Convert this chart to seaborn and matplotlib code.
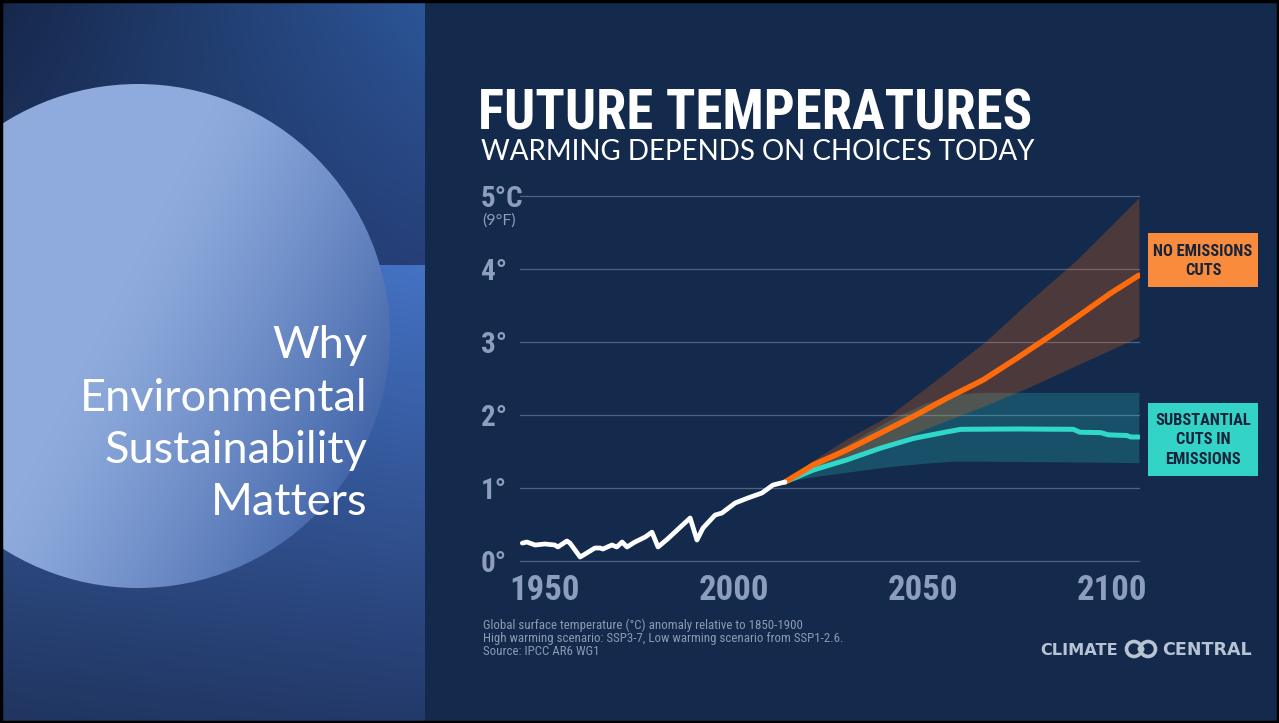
import numpy as np
import matplotlib
matplotlib.use("Agg")
import matplotlib.pyplot as plt
import seaborn as sns
import pandas as pd
from matplotlib.patches import Rectangle, Circle
from matplotlib.colors import to_rgb

# ---------------- data ----------------
hist_year = [1944.0, 1945.2, 1947.4, 1950.0, 1952.6, 1953.4, 1955.8, 1956.6, 1959.3, 1960.6,
             1963.2, 1964.6, 1965.3, 1967.7, 1969.0, 1970.4, 1971.7, 1973.8, 1976.5, 1978.3,
             1979.9, 1982.5, 1985.2, 1988.4, 1990.2, 1991.8, 1995.0, 1996.8, 2000.3, 2003.7,
             2007.4, 2010.3, 2013.5]
hist_temp = [0.25, 0.265, 0.224, 0.238, 0.224, 0.197, 0.279, 0.25, 0.06, 0.10,
             0.183, 0.183, 0.169, 0.224, 0.197, 0.265, 0.197, 0.265, 0.333, 0.40,
             0.197, 0.31, 0.44, 0.593, 0.292, 0.456, 0.634, 0.661, 0.798, 0.867,
             0.935, 1.044, 1.085]

high_year = [2013.5, 2021.0, 2029.7, 2038.6, 2047.4, 2056.3, 2065.9, 2074.8, 2083.6, 2092.4, 2099.5, 2107.1]
high_temp = [1.085, 1.32, 1.52, 1.75, 1.98, 2.23, 2.48, 2.776, 3.08, 3.40, 3.66, 3.91]

low_year = [2013.5, 2021.0, 2029.7, 2038.6, 2047.4, 2056.3, 2060.0, 2075.0, 2089.8, 2091.5, 2097.0, 2099.0, 2104.0, 2105.0, 2107.1]
low_temp = [1.085, 1.25, 1.385, 1.545, 1.68, 1.77, 1.805, 1.81, 1.805, 1.765, 1.76, 1.73, 1.72, 1.70, 1.70]

high_band_year = [2013.5, 2020, 2030, 2041.3, 2054, 2066.4, 2078, 2090.2, 2100, 2107.1]
high_band_upper = [1.085, 1.35, 1.68, 2.0, 2.5, 3.0, 3.55, 4.1, 4.6, 4.97]
high_band_lower = [1.085, 1.2, 1.4, 1.62, 1.88, 2.13, 2.38, 2.67, 2.9, 3.07]

low_band_year = [2013.5, 2020, 2030, 2040, 2050, 2058, 2065, 2090, 2107.1]
low_band_upper = [1.085, 1.3, 1.6, 1.9, 2.15, 2.28, 2.31, 2.31, 2.31]
low_band_lower = [1.085, 1.15, 1.22, 1.29, 1.34, 1.37, 1.37, 1.36, 1.35]

y_ticks = [0, 1, 2, 3, 4, 5]
y_tick_labels = ["0°", "1°", "2°", "3°", "4°", "5°C"]
x_ticks = [1950, 2000, 2050, 2100]
x_tick_labels = ["1950", "2000", "2050", "2100"]

title = "FUTURE TEMPERATURES"
subtitle = "WARMING DEPENDS ON CHOICES TODAY"
notes = ["Global surface temperature (°C) anomaly relative to 1850-1900",
         "High warming scenario: SSP3-7, Low warming scenario from SSP1-2.6.",
         "Source: IPCC AR6 WG1"]
slide_lines = ["Why", "Environmental", "Sustainability", "Matters"]

# ---------------- styling ----------------
NARROW = ["Roboto Condensed", "Liberation Sans Narrow", "DejaVu Sans"]
NAVY = "#132a4c"
TICKC = "#8c9dbd"
ORANGE = "#ff6a0a"
TEAL = "#2fd8c8"

W, H = 1279, 723
fig = plt.figure(figsize=(W / 100, H / 100), dpi=100)

bg = fig.add_axes([0, 0, 1, 1])
bg.set_xlim(0, W)
bg.set_ylim(H, 0)
bg.axis("off")


def bilinear(w, h, tl, tr, bl, br):
    tl, tr, bl, br = [np.array(to_rgb(c)) for c in (tl, tr, bl, br)]
    xs = np.linspace(0, 1, w)[None, :, None]
    ys = np.linspace(0, 1, h)[:, None, None]
    top = tl * (1 - xs) + tr * xs
    bot = bl * (1 - xs) + br * xs
    return top * (1 - ys) + bot * ys


# left slide panel
bg.imshow(bilinear(425, 265, "#16274a", "#2c5698", "#1f3764", "#263f78"),
          extent=(0, 425, 265, 0), origin="upper", zorder=0, aspect="auto")
bg.imshow(bilinear(425, 458, "#3c66b2", "#4472c4", "#20355f", "#23396a"),
          extent=(0, 425, 723, 265), origin="upper", zorder=0, aspect="auto")

# circle with gradient
cx, cy, r = 138, 336, 252
xs = np.arange(0, 392)
ys = np.arange(82, 590)
XX, YY = np.meshgrid(xs, ys)
t = np.clip(((XX - 140) * 0.9 + (YY - 250) * 0.45) / 300.0, 0, 1) ** 1.3
light = np.array(to_rgb("#8fabdd"))
dark = np.array(to_rgb("#4164a8"))
circ_img = light[None, None, :] * (1 - t[..., None]) + dark[None, None, :] * t[..., None]
im = bg.imshow(circ_img, extent=(0, 392, 590, 82), origin="upper", zorder=1, aspect="auto")
im.set_clip_path(Circle((cx, cy), r, transform=bg.transData))

for txt, yb in zip(slide_lines, [358, 411, 463, 515]):
    bg.text(367, yb, txt, ha="right", va="baseline", color="white", fontsize=32.5,
            family=["Lato", "DejaVu Sans"], weight="normal", zorder=3)

# right panel
bg.add_patch(Rectangle((425, 0), W - 425, H, fc=NAVY, ec="none", zorder=0))

# titles
bg.text(478, 130, title, color="white", fontsize=39.3, weight="bold", family=NARROW,
        fontstretch="condensed", va="baseline", ha="left", zorder=3)
bg.text(481, 160, subtitle, color="white", fontsize=20, family=["Lato", "DejaVu Sans"],
        va="baseline", ha="left", zorder=3)
bg.text(499, 221, "(9°F)", color=TICKC, fontsize=11.5, family=["Lato", "DejaVu Sans"],
        ha="center", va="center", zorder=3)

# legend boxes
bg.add_patch(Rectangle((1148, 233), 110, 54, fc="#f98b3d", ec="none", zorder=2))
bg.text(1203, 261, "NO EMISSIONS\nCUTS", ha="center", va="center", color="#17223b",
        fontsize=11.8, weight="bold", family=NARROW, fontstretch="condensed",
        linespacing=1.35, zorder=3)
bg.add_patch(Rectangle((1148, 403), 110, 73, fc="#33d3c8", ec="none", zorder=2))
bg.text(1203, 440, "SUBSTANTIAL\nCUTS IN\nEMISSIONS", ha="center", va="center",
        color="#17223b", fontsize=11.8, weight="bold", family=NARROW,
        fontstretch="condensed", linespacing=1.35, zorder=3)

# footnotes
for txt, yb in zip(notes, [629, 642, 655]):
    bg.text(483, yb, txt, ha="left", va="baseline", color="#8c9ab2", fontsize=9.3,
            family=NARROW, fontstretch="condensed", zorder=3)

# logo
LOGOC = "#b8c4d4"
bg.text(1040, 655, "CLIMATE", ha="left", va="baseline", color=LOGOC, fontsize=11.6,
        weight="bold", family="DejaVu Sans", zorder=3)
bg.text(1162, 655, "CENTRAL", ha="left", va="baseline", color=LOGOC, fontsize=12.6,
        weight="bold", family="DejaVu Sans", zorder=3)
bg.add_patch(Circle((1134, 649), 7.5, fc="none", ec=LOGOC, lw=2.6, zorder=3))
bg.add_patch(Circle((1148, 649), 7.5, fc="none", ec=LOGOC, lw=2.6, zorder=3))
bg.add_patch(Circle((1141, 649), 3.5, fc=LOGOC, ec="none", zorder=3))

# frame
bg.add_patch(Rectangle((1, 1), W - 2, H - 2, fill=False, ec="black", lw=2.5, zorder=5))

# ---------------- chart ----------------
ax_l, ax_r, ax_t, ax_b = 520, 1140, 185, 575
ax = fig.add_axes([ax_l / W, (H - ax_b) / H, (ax_r - ax_l) / W, (ax_b - ax_t) / H])
ax.set_facecolor("none")
for s in ax.spines.values():
    s.set_visible(False)

ax.fill_between(low_band_year, low_band_lower, low_band_upper, color="#2ec4c0",
                alpha=0.25, lw=0, zorder=1)
ax.fill_between(high_band_year, high_band_lower, high_band_upper, color=ORANGE,
                alpha=0.24, lw=0, zorder=1)

sns.lineplot(data=pd.DataFrame({"year": low_year, "temp": low_temp}), x="year", y="temp",
             ax=ax, color=TEAL, linewidth=3.6, zorder=3, solid_capstyle="round")
sns.lineplot(data=pd.DataFrame({"year": high_year, "temp": high_temp}), x="year", y="temp",
             ax=ax, color=ORANGE, linewidth=4.0, zorder=4, solid_capstyle="round")
sns.lineplot(data=pd.DataFrame({"year": hist_year, "temp": hist_temp}), x="year", y="temp",
             ax=ax, color="white", linewidth=3.4, zorder=5, solid_capstyle="round",
             solid_joinstyle="round")

# scale: 1950 at x=545 px, 3.78 px/yr; 0 deg at y=561.4 px, 73.17 px/deg
ax.set_xlim(1950 + (ax_l - 545) / 3.78, 1950 + (ax_r - 545) / 3.78)
ax.set_ylim((561.4 - ax_b) / 73.17, (561.4 - ax_t) / 73.17)

ax.set_yticks(y_ticks)
ax.set_yticklabels(y_tick_labels)
ax.set_xticks(x_ticks)
ax.set_xticklabels(x_tick_labels)
ax.yaxis.grid(True, color="#4d6385", lw=0.9, zorder=0)
ax.xaxis.grid(False)
ax.set_axisbelow(True)
ax.tick_params(axis="y", length=0, pad=28, labelsize=21, labelcolor=TICKC)
ax.tick_params(axis="x", length=0, pad=-1, labelsize=25, labelcolor=TICKC)
for lbl in ax.get_yticklabels():
    lbl.set_ha("left")
    lbl.set_family(NARROW)
    lbl.set_stretch("condensed")
    lbl.set_weight("bold")
for lbl in ax.get_xticklabels():
    lbl.set_family(NARROW)
    lbl.set_stretch("condensed")
    lbl.set_weight("bold")
ax.set_xlabel("")
ax.set_ylabel("")

fig.savefig("out.png", dpi=100)
